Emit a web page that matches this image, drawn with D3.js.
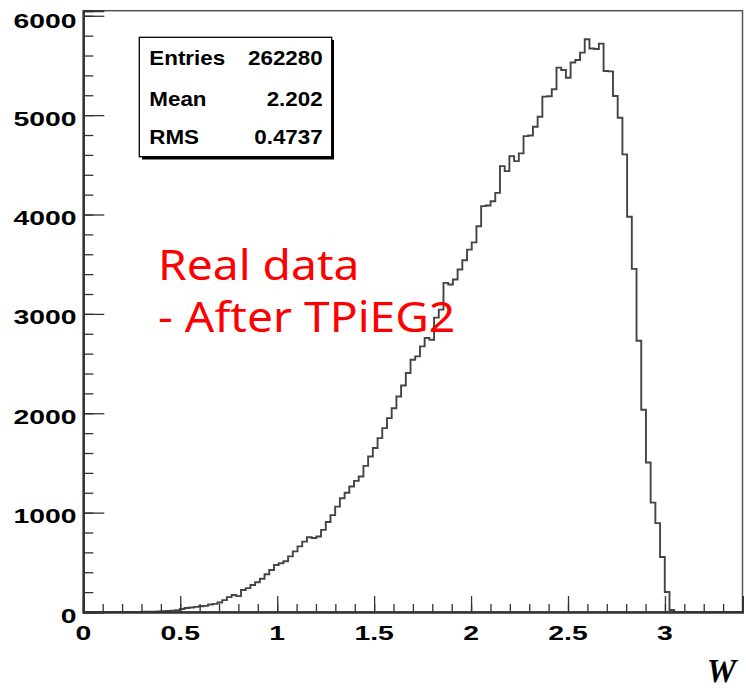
<!DOCTYPE html>
<html>
<head>
<meta charset="utf-8">
<script src="https://cdn.jsdelivr.net/npm/d3@7"></script>
<style>
  body { margin: 0; background: #fff; }
  svg { display: block; }
  .lbl { font-family: "Liberation Sans", Arial, sans-serif; font-weight: bold; fill: #000; }
</style>
</head>
<body>
<div id="chart"></div>
<script>
// histogram of W, 140 bins
var binStart = 0.012;
var binWidth = 3.4 / 140;
var counts = [
  0, 0, 0, 0, 0, 0, 0, 0, 0, 0,
  0, 1, 2, 3, 4, 6, 8, 10, 14, 18,
  30, 40, 45, 52, 58, 62, 75, 82, 95, 120,
  150, 171, 160, 222, 240, 272, 300, 335, 380, 423,
  473, 490, 510, 560, 610, 660, 708, 752, 745, 760,
  826, 905, 975, 1060, 1145, 1200, 1263, 1320, 1363, 1470,
  1565, 1650, 1750, 1850, 1951, 2050, 2169, 2280, 2405, 2539,
  2572, 2673, 2757, 2740, 2962, 3043, 3312, 3295, 3346, 3446,
  3540, 3647, 3720, 3882, 4084, 4090, 4134, 4218, 4487, 4437,
  4588, 4537, 4615, 4789, 4795, 4883, 4984, 5186, 5190, 5260,
  5478, 5454, 5377, 5529, 5555, 5629, 5763, 5670, 5665, 5720,
  5444, 5440, 5192, 4974, 4605, 3977, 3453, 2730, 2035, 1504,
  1101, 894, 554, 201, 20, 0, 0, 0, 0, 0,
  0, 0, 0, 0, 0, 0, 0, 0, 0, 0
];

var xTicks = [0, 0.5, 1, 1.5, 2, 2.5, 3];
var xTickLabels = ["0", "0.5", "1", "1.5", "2", "2.5", "3"];
var yTicks = [0, 1000, 2000, 3000, 4000, 5000, 6000];
var statNames = ["Entries", "Mean", "RMS"];
var statValues = ["262280", "2.202", "0.4737"];
var noteLines = ["Real data", "- After TPiEG2"];

var W = 746, H = 690;
var svg = d3.select('#chart').append('svg')
    .attr('width', W)
    .attr('height', H);

var xScale = d3.scaleLinear().domain([0, 3.4]).range([83.3, 742.5]);
var yScale = d3.scaleLinear().domain([0, 6051]).range([612, 10.7]);

// stretched text (the picture is wider than tall)
function label(x, y, txt, anchor, size, sx, cls) {
    return svg.append('text')
        .attr('class', cls || 'lbl')
        .attr('transform', 'translate(' + x + ',' + y + ') scale(' + sx + ',1)')
        .attr('text-anchor', anchor)
        .style('font-size', size + 'px')
        .text(txt);
}

// frame
svg.append('rect')
    .attr('x', xScale(0)).attr('y', yScale(6051))
    .attr('width', xScale(3.4) - xScale(0))
    .attr('height', yScale(0) - yScale(6051))
    .attr('fill', 'none')
    .attr('stroke', '#555')
    .attr('stroke-width', 1.5);

// histogram outline
svg.append('clipPath').attr('id', 'clip')
    .append('rect')
    .attr('x', xScale(0)).attr('y', 0)
    .attr('width', xScale(3.4) - xScale(0)).attr('height', yScale(0));

var pts = [[binStart, 0]];
counts.forEach(function(c, i) {
    var lo = binStart + i * binWidth;
    pts.push([lo, c]);
    pts.push([lo + binWidth, c]);
});
pts.push([binStart + counts.length * binWidth, 0]);

var line = d3.line()
    .x(function(d) { return xScale(d[0]); })
    .y(function(d) { return yScale(d[1]); });

svg.append('path')
    .datum(pts)
    .attr('clip-path', 'url(#clip)')
    .attr('d', line)
    .attr('fill', 'none')
    .attr('stroke', '#444')
    .attr('stroke-width', 1.9);

// axes: ROOT style ticks drawn inside
var xAxis = d3.axisTop(xScale)
    .tickValues(d3.range(0, 34).map(function(i) { return i / 10; }))
    .tickSize(8).tickFormat('');
var xMajor = d3.axisTop(xScale).tickValues(xTicks).tickSize(16).tickFormat('');
var yAxis = d3.axisRight(yScale)
    .tickValues(d3.range(0, 31).map(function(i) { return i * 200; }))
    .tickSize(10).tickFormat('');
var yMajor = d3.axisRight(yScale).tickValues(yTicks).tickSize(21).tickFormat('');

[xAxis, xMajor].forEach(function(a) {
    svg.append('g').attr('transform', 'translate(0,' + yScale(0) + ')').call(a);
});
[yAxis, yMajor].forEach(function(a) {
    svg.append('g').attr('transform', 'translate(' + xScale(0) + ',0)').call(a);
});
svg.selectAll('.domain').attr('stroke', '#333').attr('stroke-width', 2);
svg.selectAll('.tick line').attr('stroke', '#333').attr('stroke-width', 1.3);

// tick labels
xTicks.forEach(function(v, i) {
    label(xScale(v), 639.5, xTickLabels[i], 'middle', 21, 1.35);
});
yTicks.forEach(function(v) {
    var yy = v === 6000 ? yScale(v) + 12.5 : yScale(v) + 10.5;
    label(76.5, yy, String(v), 'end', 21, 1.35);
});

// axis title
svg.append('text')
    .attr('x', 736).attr('y', 682)
    .attr('text-anchor', 'end')
    .style('font-family', '"Liberation Serif", "Times New Roman", serif')
    .style('font-weight', 'bold')
    .style('font-style', 'italic')
    .style('font-size', '33px')
    .text('W');

// stats box
svg.append('rect')
    .attr('x', 142).attr('y', 40).attr('width', 192).attr('height', 119.5)
    .attr('fill', '#000');
svg.append('rect')
    .attr('x', 139.3).attr('y', 37.3).attr('width', 192.4).attr('height', 119.4)
    .attr('fill', '#fff')
    .attr('stroke', '#000')
    .attr('stroke-width', 1.3);
var rowY = [65, 105.5, 143.5];
statNames.forEach(function(n, i) {
    label(149.3, rowY[i], n, 'start', 20, 1.12);
    label(322.7, rowY[i], statValues[i], 'end', 20, 1.12);
});

// red annotation
noteLines.forEach(function(t, i) {
    svg.append('text')
        .attr('transform', 'translate(158,' + (279.5 + i * 52.3) + ') scale(1.1,1)')
        .style('font-family', '"Noto Sans", "Open Sans", sans-serif')
        .style('font-size', '42px')
        .attr('fill', '#ff0000')
        .text(t);
});
</script>
</body>
</html>
